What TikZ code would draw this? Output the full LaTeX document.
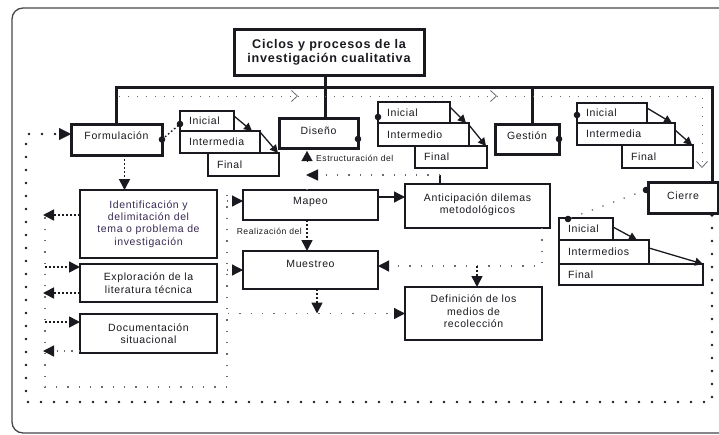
\documentclass[tikz,border=0pt]{standalone}
\usepackage{fontspec}
\setmainfont{Liberation Sans}[LetterSpace=6]
\usetikzlibrary{arrows.meta,calc}
\definecolor{ink}{rgb}{0.1,0.1,0.12}
\definecolor{purpink}{rgb}{0.22,0.16,0.32}
\definecolor{dotgray}{rgb}{0.42,0.42,0.44}
\newcommand{\bx}[7]{\node[#6, minimum width={#4pt-#2pt}, minimum height={#5pt-#3pt}] (#1) at ({(#2+#4)/2},{(#3+#5)/2}) {#7};}
\newcommand{\sbx}[6]{\node[subbox, minimum width={#4pt-#2pt}, minimum height={#5pt-#3pt}, text width={#4pt-#2pt-18pt}] (#1) at ({(#2+#4)/2},{(#3+#5)/2}) {#6};}
\begin{document}
\begin{tikzpicture}[x=1pt,y=-1pt,
  base/.style={draw=ink, fill=white, inner sep=0pt, outer sep=0pt, text=ink, font=\fontsize{10.5}{12.4}\selectfont, align=center},
  bigbox/.style={base, line width=3pt},
  midbox/.style={base, line width=2pt},
  subbox/.style={base, line width=1.3pt, inner xsep=9pt, align=left},
  tri/.style={-{Triangle[length=11pt,width=11pt,color=ink]}},
  smalltri/.style={-{Triangle[length=8pt,width=8pt]}},
  tree/.style={draw=ink, line width=3pt},
  topdot/.style={draw=dotgray, line width=1pt, dash pattern=on 1pt off 8pt, -{Straight Barb[length=6pt,width=11pt,line width=0.8pt]}},
  bigdot/.style={draw=ink, line width=2.8pt, line cap=round, dash pattern=on 0pt off 13pt},
  smalldot/.style={draw=dotgray, line width=1.3pt, dash pattern=on 1.3pt off 10pt},
  densedot/.style={draw=ink, line width=1.6pt, dash pattern=on 1.6pt off 2.4pt},
  pin/.style={fill=ink},
  lab/.style={inner sep=0pt, text=ink, font=\fontsize{8.6}{10}\selectfont}
]
\begin{scope}
\clip (0,0) rectangle (719,434);
\draw[draw=ink!80, line width=1.3pt, rounded corners=11pt] (12,8) rectangle (760,433);

% top-level boxes
\bx{title}{234}{29}{424}{75}{bigbox, font=\bfseries\fontsize{12.6}{14}\selectfont}{Ciclos y procesos de la\\investigación cualitativa}
\bx{form}{71}{124}{162}{155}{bigbox, text height=8pt, text depth=9pt}{Formulación}
\bx{dise}{279}{118}{358}{148}{bigbox, text height=8pt, text depth=6pt}{Diseño}
\bx{gest}{495}{124}{559}{154}{bigbox, text height=8pt, text depth=8pt}{Gestión}
\bx{cier}{648}{182}{718}{213}{bigbox, text height=8pt, text depth=5pt}{Cierre}

% tree lines
\coordinate (tl) at (116.5,87);
\coordinate (tr) at (712,87);
\coordinate (dx) at (325,0);
\coordinate (gx) at (532,0);
\draw[tree] (form.north) -- (tl) -- (tr) -- (tr |- cier.north);
\draw[tree] (title.south -| dx) -- (dise.north -| dx);
\draw[tree] (gx |- tr) -- (gest.north -| gx);

% top dotted line with open arrows
\coordinate (d0) at (119,96);
\coordinate (d1) at (298,96);
\coordinate (d2) at (497,96);
\coordinate (d3) at (702,96);
\coordinate (d4) at (702,168);
\draw[topdot] (d0) -- (d1);
\draw[topdot] (d1) -- (d2);
\draw[topdot] (d2) -- (d3) -- (d4);

% sub boxes
\sbx{fi1}{180}{111}{234}{131}{Inicial}
\sbx{fi2}{180}{131}{260}{153}{Intermedia}
\sbx{fi3}{208}{153}{279}{176}{Final}
\sbx{di1}{378}{102}{450}{123}{Inicial}
\sbx{di2}{378}{123}{469}{146}{Intermedio}
\sbx{di3}{415}{146}{487}{168}{Final}
\sbx{gi1}{577}{103}{647}{123}{Inicial}
\sbx{gi2}{577}{123}{675}{145}{Intermedia}
\sbx{gi3}{622}{145}{693}{168}{Final}
\sbx{ci1}{559}{218}{613}{240}{Inicial}
\sbx{ci2}{559}{240}{649}{264}{Intermedios}
\sbx{ci3}{559}{264}{703}{285}{Final}

% arrows inside the sub-box groups
\draw[ink, line width=1.3pt, smalltri] ([yshift=-5pt]fi1.north east) -- ([xshift=-8pt]fi2.north east);
\draw[ink, line width=1.3pt, smalltri] ([yshift=-1pt]fi2.north east) -- ([xshift=-1pt]fi3.north east);
\draw[ink, line width=1.3pt, smalltri] ([yshift=-5pt]di1.north east) -- ([xshift=-3pt]di2.north east);
\draw[ink, line width=1.3pt, smalltri] ([yshift=-2pt]di2.north east) -- ([xshift=-1pt]di3.north east);
\draw[ink, line width=1.3pt, smalltri] ([yshift=-5pt]gi1.north east) -- ([xshift=-3pt]gi2.north east);
\draw[ink, line width=1.3pt, smalltri] ([yshift=-7pt]gi2.north east) -- ([xshift=-1pt]gi3.north east);
\draw[ink, line width=1.3pt, smalltri] ([yshift=-9pt]ci1.north east) -- ([xshift=-12pt]ci2.north east);
\draw[ink, line width=1.3pt, smalltri] ([yshift=-8pt]ci2.north east) -- (ci3.north east);

% pins and their links
\draw[densedot, line width=1.4pt] (form.east) -- ([yshift=-3pt]fi1.west);
\fill[pin] (form.east) circle (3.3);
\fill[pin] ([yshift=-3pt]fi1.west) circle (3.3);
\fill[pin] ([yshift=-6pt]dise.east) circle (3.3);
\fill[pin] ([yshift=-4.5pt]di1.west) circle (3.3);
\fill[pin] (gest.east) circle (3.3);
\fill[pin] ([yshift=-2pt]gi1.west) circle (3.3);
\draw[smalldot] ([yshift=7.5pt,xshift=-2pt]cier.west) -- ([xshift=9pt,yshift=-1pt]ci1.north west);
\fill[pin] ([yshift=7.5pt,xshift=-2pt]cier.west) circle (3.3);
\fill[pin] ([xshift=9pt,yshift=-1pt]ci1.north west) circle (3.3);

% lower boxes
\bx{iden}{80}{190}{217}{258}{midbox, text=purpink}{Identificación y\\delimitación del\\tema o problema de\\investigación}
\bx{expl}{80}{264}{217}{302}{midbox}{Exploración de la\\literatura técnica}
\bx{docu}{80}{314}{217}{353}{midbox}{Documentación\\situacional}
\bx{mape}{243}{190}{378}{220}{midbox, text height=8pt, text depth=10pt}{Mapeo}
\bx{mues}{243}{251}{378}{289}{midbox, text height=8pt, text depth=14pt}{Muestreo}
\bx{anti}{405}{184}{550}{228}{midbox, text depth=5pt}{Anticipación dilemas\\metodológicos}
\bx{defi}{405}{287}{542}{340}{midbox, text depth=4pt}{Definición de los\\medios de\\recolección}

% big dotted outer loop
\coordinate (b0) at (712,215);
\coordinate (b1) at (712,402);
\coordinate (b2) at (26,402);
\coordinate (b3) at (26,134);
\fill[pin] (b0) circle (1.8);
\draw[bigdot] (b0) -- (b1) -- (b2) -- (b3) -- ([yshift=5.5pt]form.west);
\draw[draw=ink, line width=0.1pt, -{Triangle[length=12pt,width=12pt,color=ink]}] ($([yshift=5.5pt]form.west)+(-12,0)$) -- ([yshift=5.5pt]form.west);

% inner small-dot loop
\coordinate (i0) at (227,195);
\coordinate (i1) at (227,387);
\coordinate (i2) at (45,387);
\coordinate (i3) at (45,215);
\draw[smalldot] (i0) -- (i1) -- (i2) -- (i3);

% arrows of the left column
\draw[densedot, tri] (form.south -| 124.5,0) -- (iden.north -| 124.5,0);
\draw[densedot, tri] ([yshift=9pt]iden.west) -- (43,215);
\draw[densedot, tri] (45,267) -- ([yshift=16pt]expl.west);
\draw[densedot, tri] ([yshift=-10pt]expl.west) -- (43,293);
\draw[densedot, tri] (45,322) -- ([yshift=11.5pt]docu.west);
\draw[smalldot, dash pattern=on 1.3pt off 6pt, tri] ([yshift=-17.5pt]docu.west) -- (43,351);
\draw[smalldot, tri] (227,201) -- ([yshift=4pt]mape.west);
\draw[smalldot, tri] (227,270) -- (mues.west);

% middle arrows
\draw[ink, line width=1.3pt, tri] ([yshift=8pt]mape.east) -- ([yshift=8pt]mape.east -| anti.west);
\draw[densedot, tri] ([xshift=-3.5pt]mape.south) -- ([xshift=-3.5pt]mues.north);
\node[lab, anchor=east] (real) at (302,231) {Realización del};
\coordinate (m0) at (317,313.5);
\draw[densedot, tri] ([xshift=6.5pt]mues.south) -- (m0);
\draw[smalldot, tri] (228,313.5) -- (defi.west);
\coordinate (a0) at (542,266);
\coordinate (a1) at (477,266);
\draw[smalldot, tri] ([xshift=-8pt]anti.south east) -- (a0) -- ([yshift=4pt]mues.east);
\draw[densedot, tri] (a1) -- ([xshift=3.5pt]defi.north);

% Anticipacion -> Diseno (estructuracion)
\coordinate (e0) at (440,175);
\coordinate (e1) at (306,175);
\coordinate (e2) at (307,161.5);
\coordinate (e3) at (307,151);
\draw[ink, line width=1.3pt] ([xshift=-37.5pt]anti.north) -- (e0);
\draw[smalldot, -{Triangle[length=12pt,width=11pt,color=ink]}] (e0) -- (e1);
\draw[smalldot] ([xshift=-3.5pt]mape.north) -- (307,180);
\draw[draw=ink, line width=0.1pt, -{Triangle[length=10pt,width=11pt]}] (e2) -- (e3);
\node[lab, anchor=west] (estr) at (316,158) {Estructuración del};
\end{scope}
\end{tikzpicture}
\end{document}
